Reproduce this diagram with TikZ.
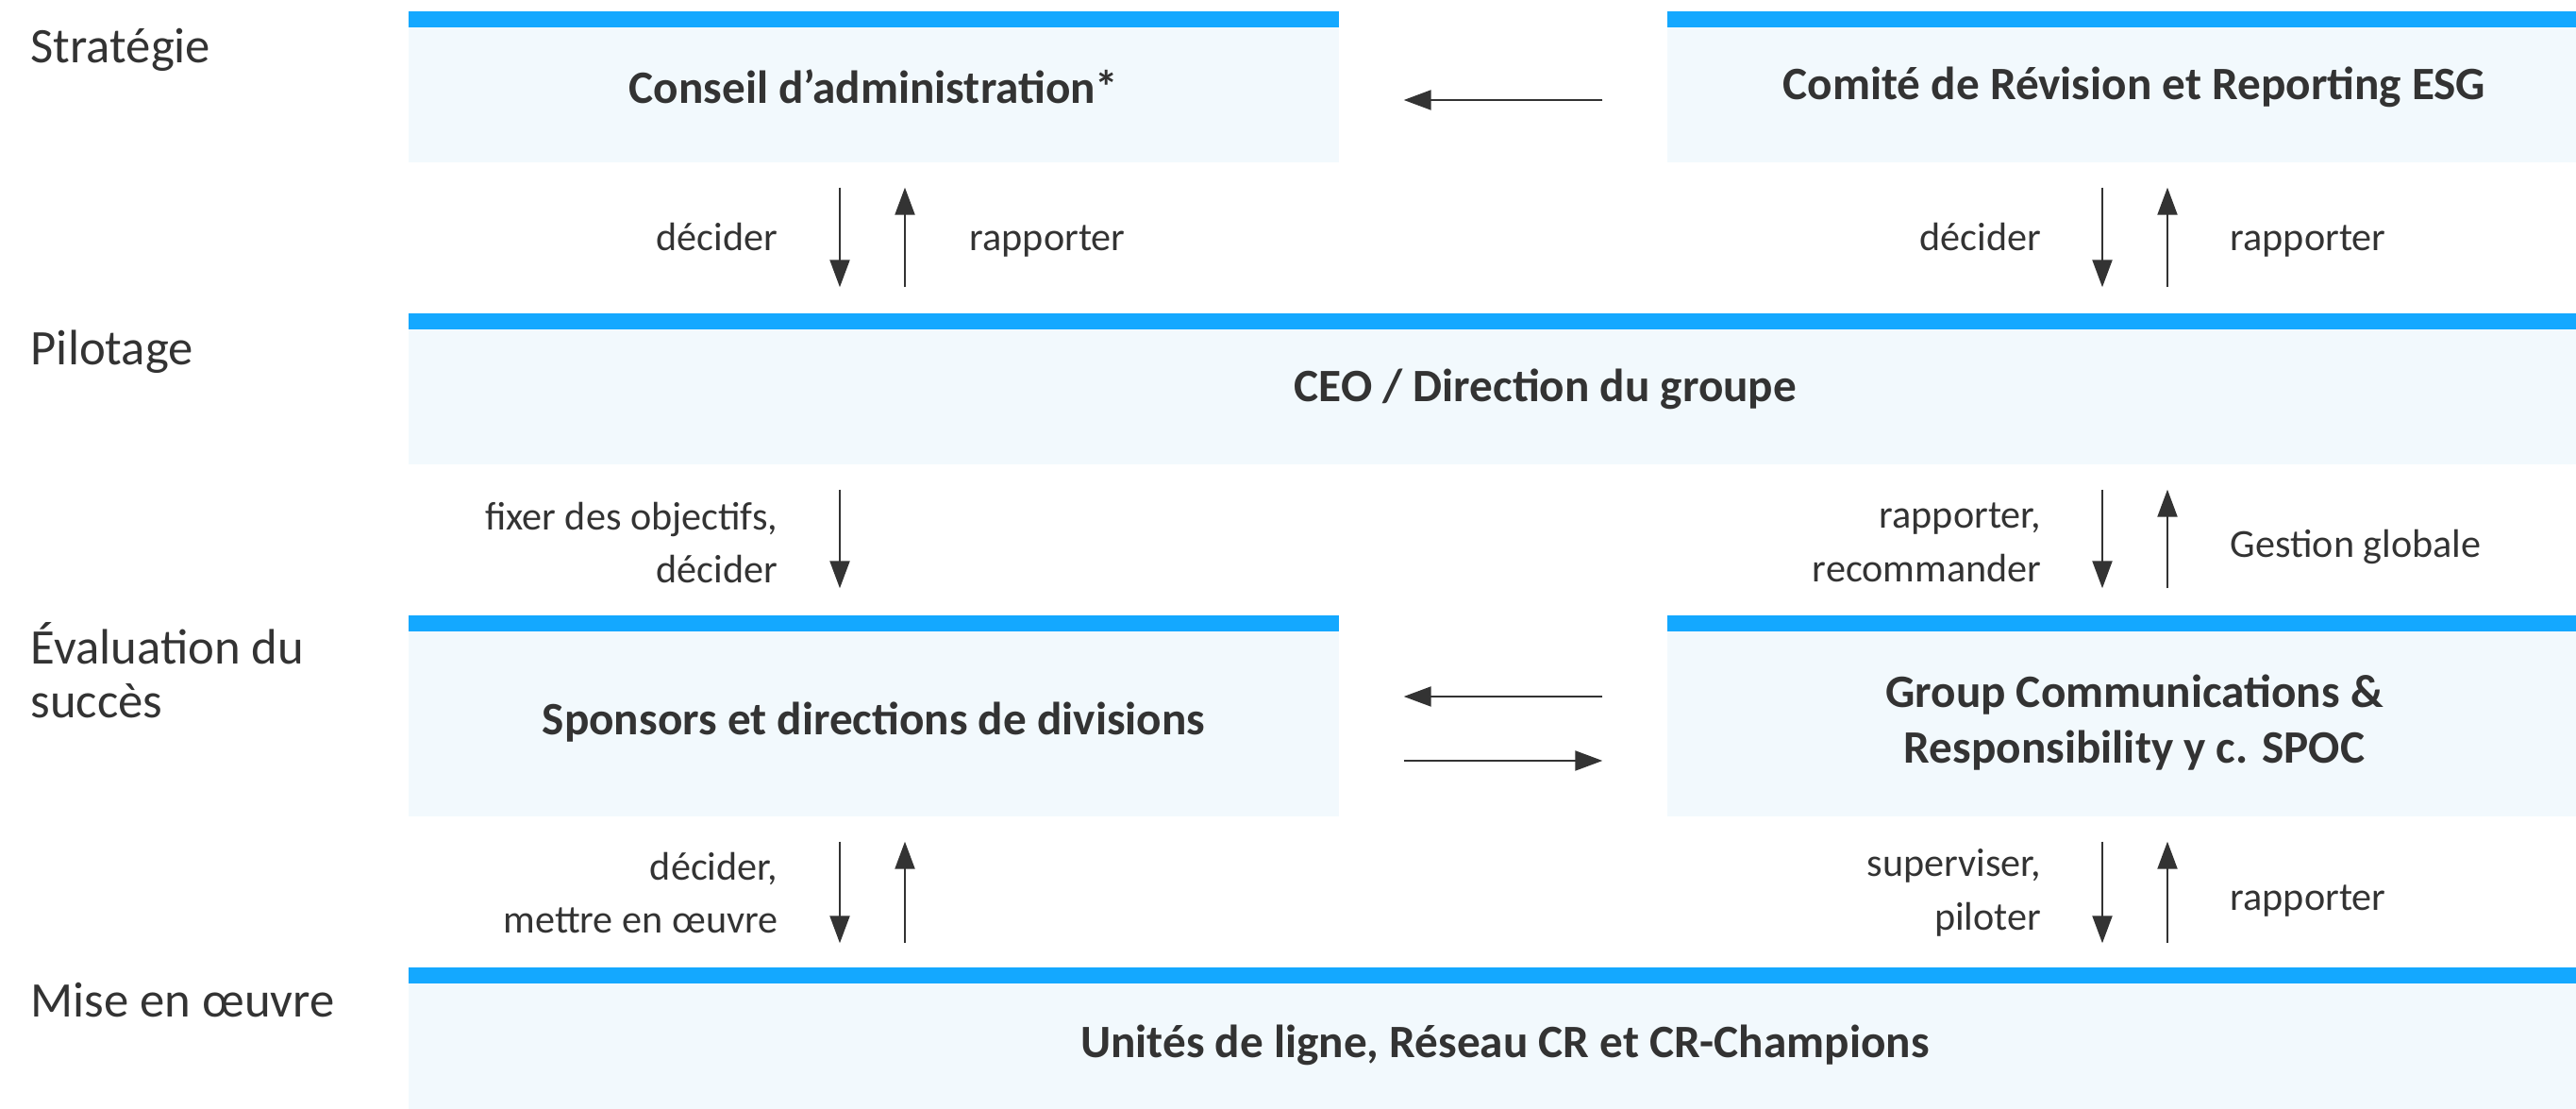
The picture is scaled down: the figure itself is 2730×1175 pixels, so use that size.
\documentclass[tikz,border=0pt]{standalone}
\usepackage{fontspec}
\setmainfont{Carlito}
\usetikzlibrary{arrows.meta, positioning, calc}
\definecolor{barblue}{RGB}{20, 168, 255}
\definecolor{boxfill}{RGB}{242, 249, 253}
\definecolor{textgray}{RGB}{51, 51, 51}

\tikzset{
  level/.style={fill=boxfill, inner sep=0pt, align=center, text=textgray,
    font=\fontsize{14}{17}\selectfont\bfseries,
    path picture={\fill[barblue] (path picture bounding box.north west) rectangle ([yshift=-1.75mm]path picture bounding box.north east);}},
  drop/.style={text height=#1, text depth=1mm},
  flow/.style={draw=textgray, line width=0.6pt, -{Triangle[length=2.9mm, width=2.1mm]}},
  lbl/.style={text=textgray, font=\fontsize{12}{16.2}\selectfont, inner sep=0pt},
  stage/.style={text=textgray, font=\fontsize{15}{16.5}\selectfont, inner sep=0pt, anchor=base west, align=left}
}

\begin{document}
\begin{tikzpicture}[x=0.1mm, y=-0.1mm]
  \useasboundingbox (0,0) rectangle (2730,1175);

  % Stages
  \node[stage] (strat) at (32,67) {Stratégie};
  \node[stage] (pilot) at (32,387) {Pilotage};
  \node[stage] (eval) at (32,761) {Évaluation du\\succès};
  \node[stage] (impl0) at (32,1078) {Mise en œuvre};

  % Boxes (right side runs past the page edge)
  \node[level, minimum width=98.6mm, minimum height=16mm] (board) at (926,92) {Conseil d’administration*};
  \node[level, minimum width=99mm, minimum height=16mm] (esg) at (2262,92) {Comité de Révision et Reporting ESG};
  \node[level, minimum width=232.4mm, minimum height=16mm] (ceo) at (1595,412) {\hspace*{8.6mm}CEO / Direction du groupe};
  \node[level, drop=5.1mm, minimum width=98.6mm, minimum height=21.3mm] (sponsors) at (926,758.5) {Sponsors et directions de divisions};
  \node[level, drop=11.1mm, minimum width=99mm, minimum height=21.3mm] (gcr) at (2262,758.5) {Group Communications \&\\Responsibility y c. SPOC};
  \node[level, drop=5.1mm, minimum width=232.4mm, minimum height=15mm] (units) at (1595,1100) {Unités de ligne, Réseau CR et CR-Champions};

  % Arrow columns
  \coordinate (xa) at (890,0);
  \coordinate (xb) at (959,0);
  \coordinate (xc) at (2228,0);
  \coordinate (xd) at (2297,0);

  % Strategy <-> steering
  \draw[flow, shorten <=2.6mm, shorten >=2.7mm] (board.south -| xa) -- (ceo.north -| xa);
  \draw[flow, shorten <=2.7mm, shorten >=2.6mm] (ceo.north -| xb) -- (board.south -| xb);
  \draw[flow, shorten <=2.6mm, shorten >=2.7mm] (esg.south -| xc) -- (ceo.north -| xc);
  \draw[flow, shorten <=2.7mm, shorten >=2.6mm] (ceo.north -| xd) -- (esg.south -| xd);
  \draw[flow, shorten <=6.8mm, shorten >=6.8mm] ([yshift=-1.4mm]esg.west) -- ([yshift=-1.4mm]board.east);

  \node[lbl, anchor=east] (dec1) at (825,251) {décider};
  \node[lbl, anchor=west] (rap1) at (1027,256) {rapporter};
  \node[lbl, anchor=east] (dec2) at (2164,251) {décider};
  \node[lbl, anchor=west] (rap2) at (2363,256) {rapporter};

  % Steering <-> evaluation
  \draw[flow, shorten <=2.6mm, shorten >=2.8mm] (ceo.south -| xa) -- (sponsors.north -| xa);
  \draw[flow, shorten <=2.6mm, shorten >=2.8mm] (ceo.south -| xc) -- (gcr.north -| xc);
  \draw[flow, shorten <=2.8mm, shorten >=2.6mm] (gcr.north -| xd) -- (ceo.south -| xd);

  \node[lbl, anchor=east, align=right] (goals) at (825,575) {fixer des objectifs,\\décider};
  \node[lbl, anchor=east, align=right] (recom) at (2164,575) {rapporter,\\recommander};
  \node[lbl, anchor=west] (global) at (2363,579) {Gestion globale};

  \draw[flow, shorten <=6.8mm, shorten >=6.8mm] ([yshift=2.05mm]gcr.west) -- ([yshift=2.05mm]sponsors.east);
  \draw[flow, shorten <=6.8mm, shorten >=6.8mm] ([yshift=-4.75mm]sponsors.east) -- ([yshift=-4.75mm]gcr.west);

  % Evaluation <-> implementation
  \draw[flow, shorten <=2.6mm, shorten >=2.5mm] (sponsors.south -| xa) -- (units.north -| xa);
  \draw[flow, shorten <=2.5mm, shorten >=2.6mm] (units.north -| xb) -- (sponsors.south -| xb);
  \draw[flow, shorten <=2.6mm, shorten >=2.5mm] (gcr.south -| xc) -- (units.north -| xc);
  \draw[flow, shorten <=2.5mm, shorten >=2.6mm] (units.north -| xd) -- (gcr.south -| xd);

  \node[lbl, anchor=east, align=right] (impl) at (825,946) {décider,\\mettre en œuvre};
  \node[lbl, anchor=east, align=right] (super) at (2164,946) {superviser,\\piloter};
  \node[lbl, anchor=west] (rap3) at (2363,955) {rapporter};
\end{tikzpicture}
\end{document}
